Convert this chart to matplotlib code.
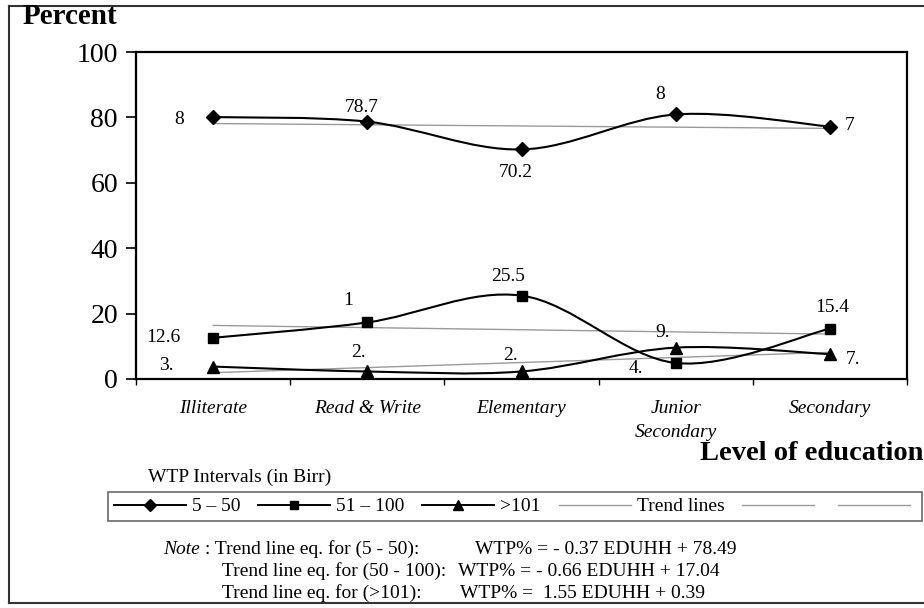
import numpy as np
import matplotlib
matplotlib.use('Agg')
import matplotlib.pyplot as plt
from matplotlib.path import Path
from matplotlib.patches import PathPatch
from matplotlib.lines import Line2D

# ---------------- data ----------------
categories = ['Illiterate', 'Read & Write', 'Elementary', 'Junior\nSecondary', 'Secondary']
series_names = ['5 – 50', '51 – 100', '>101']
wtp_5_50 = [80.1, 78.7, 70.2, 80.9, 77.2]
wtp_51_100 = [12.6, 17.3, 25.5, 4.9, 15.4]
wtp_101 = [3.8, 2.3, 2.3, 9.6, 7.6]
labels_5_50 = ['8', '78.7', '70.2', '8', '7']
labels_51_100 = ['12.6', '1', '25.5', '4.', '15.4']
labels_101 = ['3.', '2.', '2.', '9.', '7.']
trend_slopes = [-0.37, -0.66, 1.55]
trend_intercepts = [78.49, 17.04, 0.39]
y_ticks = [0, 20, 40, 60, 80, 100]

# ---------------- style / layout ----------------
SERIF = ['Liberation Serif', 'DejaVu Serif']
plt.rcParams['font.family'] = SERIF
W, H = 924, 608
fig = plt.figure(figsize=(W / 100, H / 100), dpi=100)

def fx(px):
    return px / W

def fy(py):
    return 1 - py / H

ax = fig.add_axes([fx(136), fy(379), fx(907) - fx(136), fy(52) - fy(379)])

markers = ['D', 's', '^']
msizes = [7, 7, 8.5]
all_vals = [wtp_5_50, wtp_51_100, wtp_101]
all_labels = [labels_5_50, labels_51_100, labels_101]
# label offsets (points) for each series/point
offsets = [
    [(-24.5, -2), (-4, 10), (-4, -16.5), (-11.5, 14.5), (14.5, 0.5)],
    [(-36, 0), (-13.7, 15.8), (-10, 13.7), (-29, -4.3), (2, 15)],
    [(-34, 0.7), (-6.5, 13.7), (-8, 11.5), (-9.4, 10.8), (16.5, -3.6)],
]

x = np.arange(len(categories))


def smooth_path(xs, ys):
    pts = np.column_stack([xs, ys]).astype(float)
    n = len(pts)
    verts = [pts[0]]
    codes = [Path.MOVETO]
    for i in range(n - 1):
        p0 = pts[i - 1] if i > 0 else pts[i]
        p1 = pts[i]
        p2 = pts[i + 1]
        p3 = pts[i + 2] if i + 2 < n else pts[i + 1]
        c1 = p1 + (p2 - p0) / 6.0
        c2 = p2 - (p3 - p1) / 6.0
        verts += [c1, c2, p2]
        codes += [Path.CURVE4] * 3
    return Path(verts, codes)

# trend lines (from the note's equations, EDUHH = 1..5)
trend_color = '#9a9a9a'
for s, b in zip(trend_slopes, trend_intercepts):
    edu = x + 1
    ax.plot(x, s * edu + b, color=trend_color, lw=1.0, zorder=2)

for vals, mk, ms, labs, offs in zip(all_vals, markers, msizes, all_labels, offsets):
    ax.add_patch(PathPatch(smooth_path(x, vals), facecolor='none', edgecolor='black',
                           lw=1.5, zorder=3))
    ax.plot(x, vals, linestyle='none', marker=mk, ms=ms, color='black', zorder=4)
    for xi, v, t, (dx, dy) in zip(x, vals, labs, offs):
        ax.annotate(t, (xi, v), xytext=(dx, dy), textcoords='offset points',
                    ha='center', va='center', fontsize=14, family=SERIF)

ax.set_xlim(-0.5, len(categories) - 0.5)
ax.set_ylim(0, 100)
ax.set_yticks(y_ticks)
ax.set_yticklabels([str(v) for v in y_ticks], fontsize=20)
ax.tick_params(axis='y', direction='out', length=7, width=1.2, pad=6)

ax.set_xticks(np.arange(-0.5, len(categories), 1.0))
ax.set_xticklabels([])
ax.tick_params(axis='x', which='major', direction='out', length=4, width=1.0)
ax.set_xticks(x, minor=True)
ax.set_xticklabels(categories, minor=True, fontsize=14, style='italic', linespacing=1.55)
ax.tick_params(axis='x', which='minor', length=0, pad=15)
for sp in ax.spines.values():
    sp.set_linewidth(1.6)

# texts
fig.text(fx(23), fy(17), 'Percent', fontsize=21, fontweight='bold', ha='left', va='center')
fig.text(fx(923), fy(453), 'Level of education', fontsize=20.5, fontweight='bold',
         ha='right', va='center')
fig.text(fx(148), fy(477), 'WTP Intervals (in Birr)', fontsize=14, ha='left', va='center')

# legend
handles = [Line2D([], [], color='black', lw=1.4, marker=m, ms=ms * 0.85)
           for m, ms in zip(markers, msizes)]
handles += [Line2D([], [], color=trend_color, lw=1.0) for _ in range(3)]
leg_labels = series_names + ['Trend lines', '', '']
leg = fig.legend(handles, leg_labels, ncol=6, loc='center left',
                 bbox_to_anchor=(fx(108), fy(506.5)), fontsize=14,
                 handlelength=3.7, handletextpad=0.3, columnspacing=0.93,
                 borderpad=0.3, borderaxespad=0, frameon=True, fancybox=False)
leg.get_frame().set_edgecolor('#444444')
leg.get_frame().set_linewidth(1.2)

# note
note_kw = dict(fontsize=14, ha='left', va='baseline')
fig.text(fx(163), fy(554), 'Note', style='italic', **note_kw)
fig.text(fx(205), fy(554), ': Trend line eq. for (5 - 50):', **note_kw)
fig.text(fx(475), fy(554), 'WTP% = - 0.37 EDUHH + 78.49', **note_kw)
fig.text(fx(222), fy(576), 'Trend line eq. for (50 - 100):', **note_kw)
fig.text(fx(458), fy(576), 'WTP% = - 0.66 EDUHH + 17.04', **note_kw)
fig.text(fx(222), fy(598), 'Trend line eq. for (>101):', **note_kw)
fig.text(fx(460), fy(598), 'WTP% =  1.55 EDUHH + 0.39', **note_kw)

# outer border
border_kw = dict(color='#333333', lw=1.5, transform=fig.transFigure)
fig.add_artist(Line2D([fx(9), fx(924)], [fy(6), fy(6)], **border_kw))
fig.add_artist(Line2D([fx(9), fx(9)], [fy(6), fy(603)], **border_kw))
fig.add_artist(Line2D([fx(9), fx(924)], [fy(603), fy(603)], **border_kw))

fig.savefig('out.png', dpi=100)
